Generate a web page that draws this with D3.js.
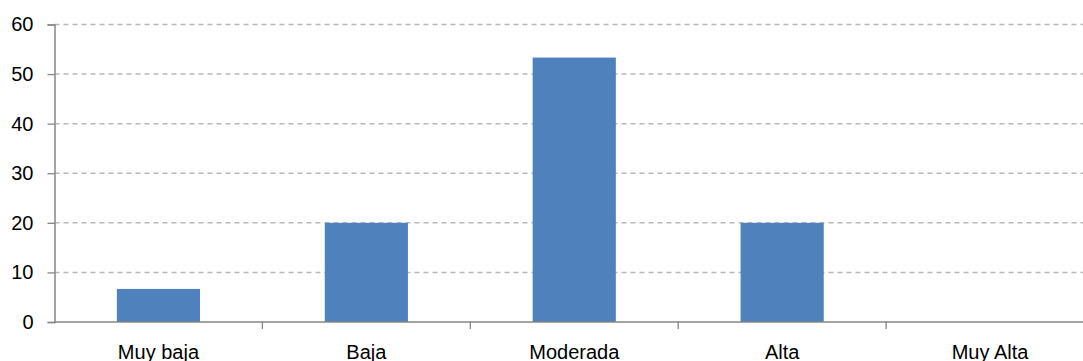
<!DOCTYPE html>
<html>
<head>
<meta charset="utf-8">
<script src="https://cdn.jsdelivr.net/npm/d3@7"></script>
<style>
  body { margin: 0; background: #fff; }
  svg { display: block; }
  text { font-family: "Liberation Sans", Arial, sans-serif; fill: #000; }
</style>
</head>
<body>
<div id="chart"></div>
<script>
const categories = ["Muy baja", "Baja", "Moderada", "Alta", "Muy Alta"]
const values = [6.67, 20, 53.33, 20, 0]
const yTicks = [0, 10, 20, 30, 40, 50, 60]

const width = 1083, height = 361
const mLeft = 54.5, mRight = 1094, mTop = 24.5, mBottom = 322

const svg = d3.select("#chart").append("svg")
  .attr("width", width)
  .attr("height", height)

const x = d3.scaleBand()
  .domain(categories)
  .range([mLeft, mRight])
  .paddingInner(0.6)
  .paddingOuter(0.3)

const y = d3.scaleLinear()
  .domain([0, 60])
  .range([mBottom, mTop])

// dashed gridlines
svg.append("g")
  .selectAll("line")
  .data(yTicks.filter(d => d > 0))
  .enter()
  .append("line")
  .attr("x1", mLeft)
  .attr("x2", width)
  .attr("y1", d => y(d))
  .attr("y2", d => y(d))
  .attr("stroke", "#b8b8b8")
  .attr("stroke-width", 1.5)
  .attr("stroke-dasharray", "5,4")

// bars
svg.append("g")
  .selectAll("rect")
  .data(values)
  .enter()
  .append("rect")
  .attr("x", (d, i) => x(categories[i]))
  .attr("y", d => y(d))
  .attr("width", x.bandwidth())
  .attr("height", d => y(0) - y(d))
  .attr("fill", "#4f81bd")

// y axis
const yAxis = svg.append("g")
  .attr("transform", "translate(" + mLeft + ",0)")
  .call(d3.axisLeft(y).tickValues(yTicks).tickSize(7).tickPadding(14))
yAxis.select(".domain").attr("stroke", "#868686").attr("stroke-width", 1.5)
yAxis.selectAll(".tick line").attr("stroke", "#868686").attr("stroke-width", 1.3)
yAxis.selectAll(".tick text")
  .style("font-size", "20px")
  .attr("fill", "#000")

// x axis
const step = x.step()
const xAxis = svg.append("g")
  .attr("transform", "translate(0," + mBottom + ")")
xAxis.append("line")
  .attr("x1", mLeft)
  .attr("x2", width)
  .attr("stroke", "#868686")
  .attr("stroke-width", 1.5)
xAxis.selectAll(".sep")
  .data(categories.slice(1))
  .enter()
  .append("line")
  .attr("class", "sep")
  .attr("x1", d => x(d) - (step - x.bandwidth()) / 2)
  .attr("x2", d => x(d) - (step - x.bandwidth()) / 2)
  .attr("y1", 0)
  .attr("y2", 7)
  .attr("stroke", "#868686")
  .attr("stroke-width", 1.3)
xAxis.selectAll("text")
  .data(categories)
  .enter()
  .append("text")
  .attr("x", d => x(d) + x.bandwidth() / 2)
  .attr("y", 37)
  .attr("text-anchor", "middle")
  .style("font-size", "20px")
  .text(d => d)
</script>
</body>
</html>
